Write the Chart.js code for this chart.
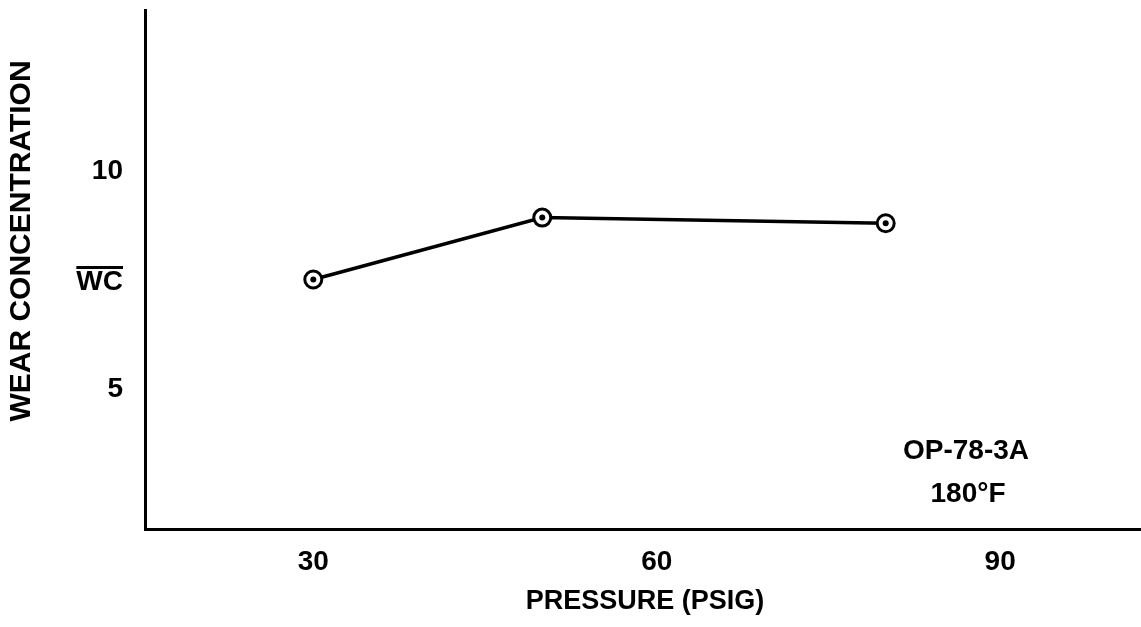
<!DOCTYPE html>
<html><head><meta charset="utf-8">
<style>html,body{margin:0;padding:0;background:#fff}#wrap{width:1141px;height:627px}</style>
<script src="https://cdn.jsdelivr.net/npm/chart.js@4/dist/chart.umd.min.js"></script>
</head><body><div id="wrap"><canvas id="c" width="1141" height="627"></canvas></div>
<script>
const pressures = [30, 50, 80];
const wearConcentration = [7.52, 8.94, 8.81];
const xTickValues = [30, 60, 90];
const xTickLabels = ['30', '60', '90'];
const yTickValues = [5, 7.45, 10];
const yTickLabels = ['5', 'WC', '10'];
const xTitle = 'PRESSURE (PSIG)';
const yTitle = 'WEAR CONCENTRATION';
const noteLines = ['OP-78-3A', '180°F'];

const FONT = 'Liberation Sans';
const points = pressures.map((p, i) => ({x: p, y: wearConcentration[i]}));

function zeroPad(s) { s.paddingTop = 0; s.paddingBottom = 0; s.paddingLeft = 0; s.paddingRight = 0; }

const textPlugin = {
  id: 'texts',
  afterDraw(chart) {
    const ctx = chart.ctx;
    const ys = chart.scales.y;
    ctx.save();
    ctx.fillStyle = '#000';
    ctx.strokeStyle = '#000';
    // overline over the WC tick label
    const wcIdx = yTickLabels.indexOf('WC');
    if (wcIdx >= 0) {
      ctx.font = 'bold 28px "' + FONT + '"';
      const w = ctx.measureText('WC').width;
      const py = ys.getPixelForValue(yTickValues[wcIdx]);
      const right = ys.right - 22;
      ctx.lineWidth = 3;
      ctx.beginPath();
      ctx.moveTo(right - w, py - 15);
      ctx.lineTo(right, py - 15);
      ctx.stroke();
    }
    // y title
    ctx.font = 'bold 30px "' + FONT + '"';
    ctx.textAlign = 'center';
    ctx.textBaseline = 'middle';
    ctx.save();
    ctx.translate(22, 241);
    ctx.rotate(-Math.PI / 2);
    ctx.fillText(yTitle, 0, 0);
    ctx.restore();
    // x title
    ctx.font = 'bold 27px "' + FONT + '"';
    ctx.fillText(xTitle, 645, 602);
    // notes
    ctx.font = 'bold 28px "' + FONT + '"';
    ctx.fillText(noteLines[0], 966, 451);
    ctx.fillText(noteLines[1], 968, 494);
    ctx.restore();
  }
};

new Chart(document.getElementById('c'), {
  type: 'scatter',
  data: {
    datasets: [
      {
        data: points,
        showLine: true,
        borderColor: '#000',
        borderWidth: 3.5,
        pointRadius: 8.5,
        pointBorderWidth: 3,
        pointBackgroundColor: '#fff',
        pointBorderColor: '#000',
        order: 2
      },
      {
        data: points,
        showLine: false,
        pointRadius: 3,
        pointBorderWidth: 0,
        pointBackgroundColor: '#000',
        order: 1
      }
    ]
  },
  options: {
    responsive: false,
    animation: false,
    devicePixelRatio: 1,
    layout: {autoPadding: false, padding: {top: 10, left: 0, right: 0, bottom: 0}},
    plugins: {legend: {display: false}, tooltip: {enabled: false}},
    scales: {
      x: {
        type: 'linear',
        min: 15.3,
        max: 102.3,
        afterFit(s) { s.height = 98; zeroPad(s); },
        afterBuildTicks(s) { s.ticks = xTickValues.map(v => ({value: v})); },
        grid: {display: false, drawTicks: false},
        border: {display: true, width: 3, color: '#000'},
        ticks: {
          padding: 16,
          color: '#000',
          font: {family: FONT, weight: 'bold', size: 28},
          maxRotation: 0,
          autoSkip: false,
          callback: (v, i) => xTickLabels[i]
        }
      },
      y: {
        type: 'linear',
        min: 1.8,
        max: 13.7,
        afterFit(s) { s.width = 145; zeroPad(s); },
        afterBuildTicks(s) { s.ticks = yTickValues.map(v => ({value: v})); },
        grid: {display: false, drawTicks: false},
        border: {display: true, width: 3, color: '#000'},
        ticks: {
          padding: 22,
          color: '#000',
          font: {family: FONT, weight: 'bold', size: 28},
          autoSkip: false,
          callback: (v, i) => yTickLabels[i]
        }
      }
    }
  },
  plugins: [textPlugin]
});
</script>
</body></html>
